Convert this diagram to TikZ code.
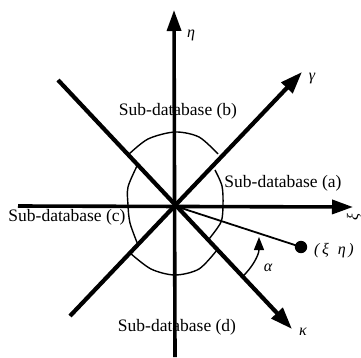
\documentclass[tikz,border=0pt]{standalone}
\usepackage{fontspec}
\setmainfont{Liberation Serif}
\usetikzlibrary{arrows.meta}
\begin{document}
\begin{tikzpicture}[x=1pt,y=-1pt,
  axis/.style={line width=3.6pt, -{Triangle[length=21pt,width=14pt]}},
  diag/.style={line width=4.2pt, -{Triangle[length=22pt,width=15pt]}},
  rim/.style={line width=1.4pt},
  thin/.style={line width=1.8pt},
  lbl/.style={font=\fontsize{17.5}{20}\selectfont, inner sep=0pt},
  glbl/.style={font=\fontsize{16}{19}\selectfont\itshape, inner sep=0pt}]
\useasboundingbox (0,0) rectangle (361,357);
% key points
\coordinate (O) at (175,206);
\coordinate (xs) at (18,206);  \coordinate (xe) at (353,207);
\coordinate (ys) at (175,357); \coordinate (ye) at (174,10);
\coordinate (gs) at (70,316);  \coordinate (ge) at (302,72);
\coordinate (ks) at (58,80);   \coordinate (ke) at (292,329);
\coordinate (P) at (301,247);
\coordinate (aA) at (242,277); \coordinate (aB) at (259,237);
% labels
\node[lbl] (sa) at (283,183) {Sub-database (a)};
\node[lbl] (sb) at (178,111) {Sub-database (b)};
\node[lbl] (sc) at (67,217) {Sub-database (c)};
\node[lbl] (sd) at (177,327) {Sub-database (d)};
% rim pieces
\draw[rim] plot[smooth] coordinates {(128,155) (148,139) (175,132) (199,137) (218,154)};
\draw[rim] plot[smooth] coordinates {(215,170) (222,186) (223,205) (221,222) (209,239)};
\draw[rim] plot[smooth] coordinates {(217,250) (199,269) (175,275) (151,269) (130,253)};
\draw[rim] plot[smooth] coordinates {(138,245) (130,223) (128,205) (128,187) (137,166)};
% axes
\draw[axis] (xs) -- (xe);
\draw[axis] (ys) -- (ye);
\draw[diag] (gs) -- (ge);
\draw[diag] (ks) -- (ke);
% point line
\draw[thin] (O) -- (P);
\fill (P) circle[radius=6.2];
\draw[rim, -{Triangle[length=13pt,width=10pt]}] (aA) .. controls (252,268) and (259,255) .. (aB);
% greek labels
\node[glbl] (eta) at (191,35) {η};
\node[glbl] (gam) at (312,79) {γ};
\node[glbl] (kap) at (303,332) {κ};
\node[glbl] (alp) at (268,268) {α};
\node[glbl, rotate=90] (xi) at (354,217) {ξ};
\node[glbl] (pt) at (334,251) {(\,ξ\;\;η\,)};
\end{tikzpicture}
\end{document}
